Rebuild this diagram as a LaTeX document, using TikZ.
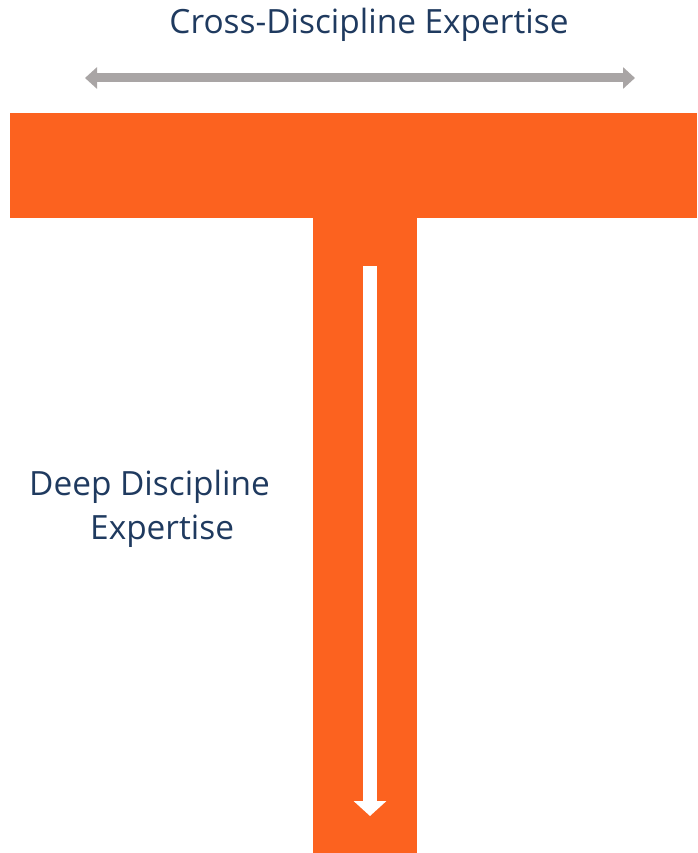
\documentclass[tikz,border=0pt]{standalone}
\usepackage{fontspec}
\setmainfont{Open Sans}
\usetikzlibrary{arrows.meta}
\definecolor{torange}{HTML}{FC621F}
\definecolor{tnavy}{HTML}{1F3A5F}
\definecolor{tgray}{HTML}{A9A5A5}
\tikzset{
  label text/.style={text=tnavy, font=\fontsize{33.4}{44}\selectfont, inner sep=0pt},
  bar/.style={fill=torange, draw=none},
}
\begin{document}
\begin{tikzpicture}[x=1pt,y=-1pt]
\useasboundingbox (0,0) rectangle (697,853);
\fill[bar] (10,113) rectangle (697,218);
\fill[bar] (313,218) rectangle (417,853);
\coordinate (gl) at (85,78);
\coordinate (gr) at (635,78);
\draw[tgray, line width=9pt, {Triangle[length=12pt,width=21pt]}-{Triangle[length=12pt,width=21pt]}] (gl) -- (gr);
\coordinate (wt) at (370,266);
\coordinate (wb) at (370,816);
\draw[white, line width=14pt, -{Triangle[length=15pt,width=32pt]}] (wt) -- (wb);
\node[label text, anchor=base] (top) at (369,34) {Cross-Discipline Expertise};
\node[label text, anchor=base west, align=left] (deep) at (29,539) {Deep Discipline\\\hspace*{61pt}Expertise};
\end{tikzpicture}
\end{document}
